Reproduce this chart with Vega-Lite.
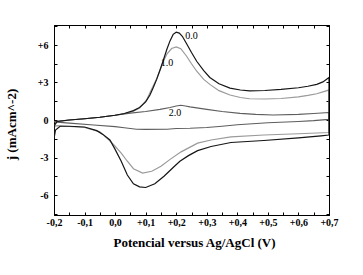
{
  "$schema": "https://vega.github.io/schema/vega-lite/v6.json",
  "width": 275,
  "height": 190,
  "autosize": {"type": "none"},
  "padding": {"left": 54, "top": 25, "right": 34, "bottom": 60},
  "background": "white",
  "config": {
    "view": {"stroke": "black", "strokeWidth": 1},
    "axis": {
      "grid": false,
      "domainColor": "black",
      "tickColor": "black",
      "labelColor": "black",
      "titleColor": "black",
      "labelFont": "'Liberation Serif', 'Times New Roman', 'DejaVu Serif', serif",
      "titleFont": "'Liberation Serif', 'Times New Roman', 'DejaVu Serif', serif",
      "labelFontWeight": "bold",
      "titleFontWeight": "bold",
      "labelFontSize": 10,
      "titleFontSize": 13
    }
  },
  "datasets": {
    "curves": [
      {"c":"1.0","i":1,"x":-0.2,"y":-0.5},
      {"c":"1.0","i":2,"x":-0.19,"y":-0.15},
      {"c":"1.0","i":3,"x":-0.15,"y":0.0},
      {"c":"1.0","i":4,"x":-0.1,"y":0.1},
      {"c":"1.0","i":5,"x":-0.05,"y":0.22},
      {"c":"1.0","i":6,"x":0.0,"y":0.38},
      {"c":"1.0","i":7,"x":0.03,"y":0.5},
      {"c":"1.0","i":8,"x":0.06,"y":0.7},
      {"c":"1.0","i":9,"x":0.08,"y":0.95},
      {"c":"1.0","i":10,"x":0.103,"y":1.6},
      {"c":"1.0","i":11,"x":0.12,"y":2.5},
      {"c":"1.0","i":12,"x":0.136,"y":3.3},
      {"c":"1.0","i":13,"x":0.147,"y":4.0},
      {"c":"1.0","i":14,"x":0.158,"y":4.7},
      {"c":"1.0","i":15,"x":0.17,"y":5.3},
      {"c":"1.0","i":16,"x":0.185,"y":5.72},
      {"c":"1.0","i":17,"x":0.2,"y":5.85},
      {"c":"1.0","i":18,"x":0.215,"y":5.7},
      {"c":"1.0","i":19,"x":0.234,"y":5.1},
      {"c":"1.0","i":20,"x":0.25,"y":4.5},
      {"c":"1.0","i":21,"x":0.267,"y":3.9},
      {"c":"1.0","i":22,"x":0.29,"y":3.25},
      {"c":"1.0","i":23,"x":0.31,"y":2.85},
      {"c":"1.0","i":24,"x":0.34,"y":2.35},
      {"c":"1.0","i":25,"x":0.376,"y":2.0},
      {"c":"1.0","i":26,"x":0.41,"y":1.8},
      {"c":"1.0","i":27,"x":0.44,"y":1.7},
      {"c":"1.0","i":28,"x":0.49,"y":1.68},
      {"c":"1.0","i":29,"x":0.543,"y":1.72},
      {"c":"1.0","i":30,"x":0.6,"y":1.85},
      {"c":"1.0","i":31,"x":0.631,"y":1.97},
      {"c":"1.0","i":32,"x":0.66,"y":2.1},
      {"c":"1.0","i":33,"x":0.7,"y":2.4},
      {"c":"1.0","i":34,"x":0.7,"y":-1.0},
      {"c":"1.0","i":35,"x":0.6,"y":-1.1},
      {"c":"1.0","i":36,"x":0.487,"y":-1.2},
      {"c":"1.0","i":37,"x":0.379,"y":-1.35},
      {"c":"1.0","i":38,"x":0.314,"y":-1.6},
      {"c":"1.0","i":39,"x":0.27,"y":-1.85},
      {"c":"1.0","i":40,"x":0.216,"y":-2.55},
      {"c":"1.0","i":41,"x":0.18,"y":-3.15},
      {"c":"1.0","i":42,"x":0.15,"y":-3.7},
      {"c":"1.0","i":43,"x":0.12,"y":-4.1},
      {"c":"1.0","i":44,"x":0.09,"y":-4.24},
      {"c":"1.0","i":45,"x":0.06,"y":-3.9},
      {"c":"1.0","i":46,"x":0.04,"y":-3.3},
      {"c":"1.0","i":47,"x":0.02,"y":-2.65},
      {"c":"1.0","i":48,"x":0.0,"y":-2.1},
      {"c":"1.0","i":49,"x":-0.02,"y":-1.6},
      {"c":"1.0","i":50,"x":-0.05,"y":-0.95},
      {"c":"1.0","i":51,"x":-0.1,"y":-0.6},
      {"c":"1.0","i":52,"x":-0.15,"y":-0.52},
      {"c":"1.0","i":53,"x":-0.19,"y":-0.45},
      {"c":"1.0","i":54,"x":-0.2,"y":-0.5},
      {"c":"2.0","i":1,"x":-0.2,"y":-0.12},
      {"c":"2.0","i":2,"x":-0.15,"y":0.0},
      {"c":"2.0","i":3,"x":-0.1,"y":0.1},
      {"c":"2.0","i":4,"x":-0.05,"y":0.22},
      {"c":"2.0","i":5,"x":0.0,"y":0.38},
      {"c":"2.0","i":6,"x":0.05,"y":0.55},
      {"c":"2.0","i":7,"x":0.1,"y":0.68},
      {"c":"2.0","i":8,"x":0.147,"y":0.85},
      {"c":"2.0","i":9,"x":0.18,"y":1.0},
      {"c":"2.0","i":10,"x":0.2,"y":1.12},
      {"c":"2.0","i":11,"x":0.215,"y":1.18},
      {"c":"2.0","i":12,"x":0.23,"y":1.12},
      {"c":"2.0","i":13,"x":0.245,"y":1.05},
      {"c":"2.0","i":14,"x":0.3,"y":0.85},
      {"c":"2.0","i":15,"x":0.35,"y":0.68},
      {"c":"2.0","i":16,"x":0.409,"y":0.53},
      {"c":"2.0","i":17,"x":0.46,"y":0.45},
      {"c":"2.0","i":18,"x":0.517,"y":0.4},
      {"c":"2.0","i":19,"x":0.6,"y":0.45},
      {"c":"2.0","i":20,"x":0.65,"y":0.52},
      {"c":"2.0","i":21,"x":0.7,"y":0.6},
      {"c":"2.0","i":22,"x":0.7,"y":0.05},
      {"c":"2.0","i":23,"x":0.65,"y":-0.05},
      {"c":"2.0","i":24,"x":0.6,"y":-0.12},
      {"c":"2.0","i":25,"x":0.5,"y":-0.22},
      {"c":"2.0","i":26,"x":0.4,"y":-0.38},
      {"c":"2.0","i":27,"x":0.35,"y":-0.5},
      {"c":"2.0","i":28,"x":0.3,"y":-0.6},
      {"c":"2.0","i":29,"x":0.245,"y":-0.66},
      {"c":"2.0","i":30,"x":0.2,"y":-0.68},
      {"c":"2.0","i":31,"x":0.17,"y":-0.74},
      {"c":"2.0","i":32,"x":0.1,"y":-0.75},
      {"c":"2.0","i":33,"x":0.07,"y":-0.74},
      {"c":"2.0","i":34,"x":0.03,"y":-0.62},
      {"c":"2.0","i":35,"x":0.0,"y":-0.53},
      {"c":"2.0","i":36,"x":-0.07,"y":-0.4},
      {"c":"2.0","i":37,"x":-0.15,"y":-0.25},
      {"c":"2.0","i":38,"x":-0.2,"y":-0.15},
      {"c":"0.0","i":1,"x":-0.2,"y":-1.5},
      {"c":"0.0","i":2,"x":-0.198,"y":-0.4},
      {"c":"0.0","i":3,"x":-0.19,"y":-0.12},
      {"c":"0.0","i":4,"x":-0.15,"y":0.0},
      {"c":"0.0","i":5,"x":-0.1,"y":0.1},
      {"c":"0.0","i":6,"x":-0.05,"y":0.22},
      {"c":"0.0","i":7,"x":0.0,"y":0.38},
      {"c":"0.0","i":8,"x":0.03,"y":0.52},
      {"c":"0.0","i":9,"x":0.06,"y":0.75},
      {"c":"0.0","i":10,"x":0.08,"y":1.0},
      {"c":"0.0","i":11,"x":0.1,"y":1.45},
      {"c":"0.0","i":12,"x":0.114,"y":2.0},
      {"c":"0.0","i":13,"x":0.125,"y":2.6},
      {"c":"0.0","i":14,"x":0.136,"y":3.25},
      {"c":"0.0","i":15,"x":0.147,"y":4.0},
      {"c":"0.0","i":16,"x":0.158,"y":4.8},
      {"c":"0.0","i":17,"x":0.17,"y":5.7},
      {"c":"0.0","i":18,"x":0.18,"y":6.35},
      {"c":"0.0","i":19,"x":0.19,"y":6.85},
      {"c":"0.0","i":20,"x":0.2,"y":7.02},
      {"c":"0.0","i":21,"x":0.21,"y":6.95},
      {"c":"0.0","i":22,"x":0.22,"y":6.7},
      {"c":"0.0","i":23,"x":0.234,"y":6.1},
      {"c":"0.0","i":24,"x":0.25,"y":5.4},
      {"c":"0.0","i":25,"x":0.267,"y":4.7},
      {"c":"0.0","i":26,"x":0.29,"y":3.95},
      {"c":"0.0","i":27,"x":0.31,"y":3.4},
      {"c":"0.0","i":28,"x":0.34,"y":2.9},
      {"c":"0.0","i":29,"x":0.376,"y":2.55},
      {"c":"0.0","i":30,"x":0.41,"y":2.4},
      {"c":"0.0","i":31,"x":0.44,"y":2.33},
      {"c":"0.0","i":32,"x":0.49,"y":2.36},
      {"c":"0.0","i":33,"x":0.543,"y":2.45},
      {"c":"0.0","i":34,"x":0.6,"y":2.58},
      {"c":"0.0","i":35,"x":0.631,"y":2.7},
      {"c":"0.0","i":36,"x":0.66,"y":2.85},
      {"c":"0.0","i":37,"x":0.68,"y":3.05},
      {"c":"0.0","i":38,"x":0.7,"y":3.4},
      {"c":"0.0","i":39,"x":0.7,"y":-1.2},
      {"c":"0.0","i":40,"x":0.674,"y":-1.27},
      {"c":"0.0","i":41,"x":0.6,"y":-1.43},
      {"c":"0.0","i":42,"x":0.487,"y":-1.64},
      {"c":"0.0","i":43,"x":0.379,"y":-1.8},
      {"c":"0.0","i":44,"x":0.314,"y":-2.12},
      {"c":"0.0","i":45,"x":0.27,"y":-2.45},
      {"c":"0.0","i":46,"x":0.24,"y":-2.85},
      {"c":"0.0","i":47,"x":0.212,"y":-3.3},
      {"c":"0.0","i":48,"x":0.19,"y":-3.8},
      {"c":"0.0","i":49,"x":0.16,"y":-4.5},
      {"c":"0.0","i":50,"x":0.13,"y":-5.1},
      {"c":"0.0","i":51,"x":0.1,"y":-5.4},
      {"c":"0.0","i":52,"x":0.08,"y":-5.35},
      {"c":"0.0","i":53,"x":0.06,"y":-5.1},
      {"c":"0.0","i":54,"x":0.04,"y":-4.4},
      {"c":"0.0","i":55,"x":0.02,"y":-3.3},
      {"c":"0.0","i":56,"x":0.0,"y":-2.35},
      {"c":"0.0","i":57,"x":-0.017,"y":-1.6},
      {"c":"0.0","i":58,"x":-0.04,"y":-1.15},
      {"c":"0.0","i":59,"x":-0.06,"y":-0.85},
      {"c":"0.0","i":60,"x":-0.1,"y":-0.56},
      {"c":"0.0","i":61,"x":-0.15,"y":-0.5},
      {"c":"0.0","i":62,"x":-0.18,"y":-0.5},
      {"c":"0.0","i":63,"x":-0.195,"y":-0.8},
      {"c":"0.0","i":64,"x":-0.2,"y":-1.5}
    ],
    "labels": [
      {"t":"0.0","x":0.25,"y":6.7},
      {"t":"1.0","x":0.17,"y":4.55},
      {"t":"2.0","x":0.196,"y":0.55}
    ]
  },
  "layer": [
    {
      "data": {"name": "curves"},
      "mark": {"type": "line", "strokeWidth": 1.2, "clip": true},
      "encoding": {
        "x": {
          "field": "x", "type": "quantitative",
          "scale": {"domain": [-0.2, 0.7], "nice": false, "zero": false},
          "axis": {
            "orient": "bottom",
            "title": "Potencial versus Ag/AgCl (V)",
            "values": [-0.2,-0.15,-0.1,-0.05,0,0.05,0.1,0.15,0.2,0.25,0.3,0.35,0.4,0.45,0.5,0.55,0.6,0.65,0.7],
            "labelExpr": "abs(datum.value*10 - round(datum.value*10)) < 0.01 ? (datum.value > 0.001 ? '+' : (datum.value < -0.001 ? '-' : '')) + replace(format(abs(datum.value), '.1f'), '.', ',') : ''",
            "tickSize": -3,
            "labelPadding": 5,
            "labelFlush": false,
            "labelOverlap": false,
            "titleX": 140,
            "titleY": 27,
            "titleBaseline": "middle",
            "titleAnchor": "middle"
          }
        },
        "y": {
          "field": "y", "type": "quantitative",
          "scale": {"domain": [-7.6, 7.6], "nice": false, "zero": false},
          "axis": {
            "orient": "left",
            "title": "j (mAcm^-2)",
            "values": [-7.5,-6,-4.5,-3,-1.5,0,1.5,3,4.5,6,7.5],
            "labelExpr": "abs(datum.value % 3) < 0.01 ? (datum.value > 0 ? '+' : '') + datum.value : ''",
            "tickSize": -3,
            "labelPadding": 9,
            "labelOverlap": false,
            "labelFlush": false,
            "titleX": -43,
            "titleY": 99,
            "titleBaseline": "middle",
            "titleAnchor": "middle"
          }
        },
        "color": {
          "field": "c", "type": "nominal",
          "scale": {"domain": ["1.0", "2.0", "0.0"], "range": ["#9a9a9a", "#5e5e5e", "#151515"]},
          "legend": null
        },
        "order": {"field": "i", "type": "quantitative"}
      }
    },
    {
      "data": {"name": "labels"},
      "mark": {"type": "text", "font": "'Liberation Serif', 'Times New Roman', serif", "fontSize": 10, "color": "black"},
      "encoding": {
        "x": {
          "field": "x", "type": "quantitative",
          "axis": {
            "orient": "top", "title": null, "labels": false,
            "values": [-0.2,-0.15,-0.1,-0.05,0,0.05,0.1,0.15,0.2,0.25,0.3,0.35,0.4,0.45,0.5,0.55,0.6,0.65,0.7],
            "tickSize": -3
          }
        },
        "y": {
          "field": "y", "type": "quantitative",
          "axis": {
            "orient": "right", "title": null, "labels": false,
            "values": [-7.5,-6,-4.5,-3,-1.5,0,1.5,3,4.5,6,7.5],
            "tickSize": -3
          }
        },
        "text": {"field": "t"}
      }
    }
  ]
}
